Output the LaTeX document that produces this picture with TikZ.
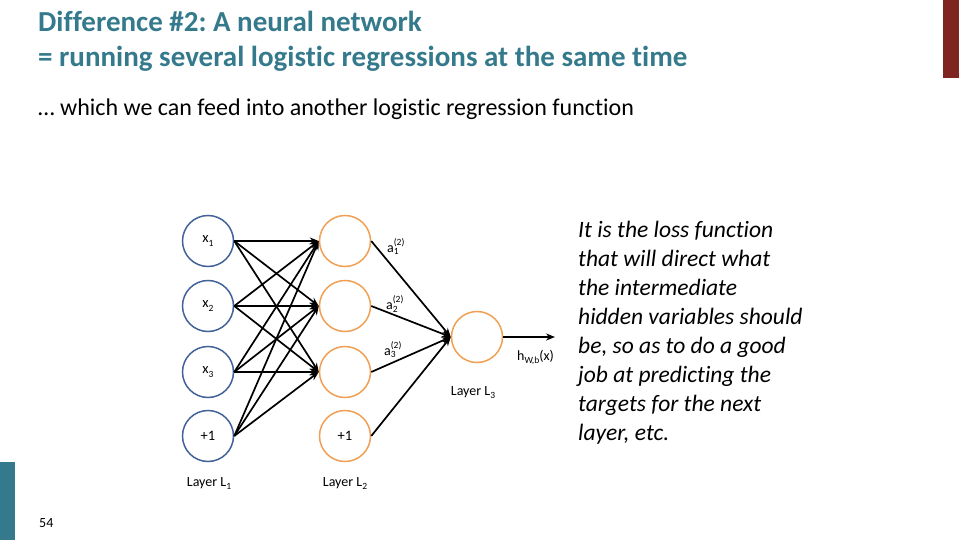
\documentclass[tikz,border=0pt]{standalone}
\usepackage{fontspec}
\setmainfont{Carlito}[Ligatures=NoCommon]
\usetikzlibrary{arrows.meta}
\definecolor{teal}{RGB}{52,122,140}
\definecolor{darkred}{RGB}{128,36,32}
\definecolor{nblue}{RGB}{68,98,154}
\definecolor{norange}{RGB}{240,160,85}
\newcommand{\smallfs}{\fontsize{9.5}{10}\selectfont}
\newcommand{\tsub}[1]{\raisebox{-0.28em}{\smallfs #1}}
\newcommand{\aact}[1]{a$^{\hbox{\smallfs (2)}}_{\hbox{\smallfs #1}}$}
\frenchspacing
\begin{document}
\begin{tikzpicture}[x=1pt,y=-1pt,
  inL/.style={circle,draw=nblue,line width=1.5pt,minimum size=51pt,inner sep=0pt,font=\fontsize{14.5}{16}\selectfont},
  hidL/.style={circle,draw=norange,line width=1.5pt,minimum size=51pt,inner sep=0pt,font=\fontsize{14.5}{16}\selectfont},
  conn/.style={line width=1.7pt,-{Stealth[length=9pt,width=7pt]}},
  lab/.style={font=\fontsize{14}{16}\selectfont,inner sep=0pt},
  title/.style={anchor=base west,inner sep=0pt,text=teal,font=\fontsize{29}{32}\selectfont\bfseries},
  body/.style={anchor=base west,inner sep=0pt,font=\fontsize{23.5}{27}\selectfont\itshape}]
\useasboundingbox (0,0) rectangle (960,540);
\fill[darkred] (943,0) rectangle (959,78);
\fill[teal] (0,462) rectangle (15,540);
\node[title] (t1) at (38,32) {Difference \#2: A neural network};
\node[title] (t2) at (38,67) {= running several logistic regressions at the same time};
\node[anchor=base west,inner sep=0pt,font=\fontsize{24}{28}\selectfont] (sub) at (38,116) {… which we can feed into another logistic regression function};
\node[anchor=base west,inner sep=0pt,font=\fontsize{14}{16}\selectfont] (pg) at (39,527) {54};
% layer 1
\node[inL] (x1) at (208,241) {x\tsub{1}};
\node[inL] (x2) at (208,306) {x\tsub{2}};
\node[inL] (x3) at (208,372) {x\tsub{3}};
\node[inL] (b1) at (208,436) {+1};
% layer 2
\node[hidL] (h1) at (345,241) {};
\node[hidL] (h2) at (345,306) {};
\node[hidL] (h3) at (345,372) {};
\node[hidL] (b2) at (345,436) {+1};
% layer 3
\node[hidL] (o) at (477,337) {};
\coordinate (out) at (555,337);
% connections
\foreach \s in {x1,x2,x3,b1}{
  \foreach \t in {h1,h2,h3}{
    \draw[conn] (\s.east) -- (\t.west);
  }
}
\foreach \s in {h1,h2,h3,b2}{
  \draw[conn] (\s.east) -- (o.west);
}
\draw[conn] (o.east) -- (out);
% labels
\node[lab] (a1) at (396,247) {\aact{1}};
\node[lab] (a2) at (395,304) {\aact{2}};
\node[lab] (a3) at (393,350) {\aact{3}};
\node[lab,anchor=base] (hx) at (535.5,360) {h\tsub{W,b}(x)};
\node[lab,anchor=base] (L1) at (209,486) {Layer L\tsub{1}};
\node[lab,anchor=base] (L2) at (345,486) {Layer L\tsub{2}};
\node[lab,anchor=base] (L3) at (473,395) {Layer L\tsub{3}};
% right text
\node[body] (r1) at (578,237) {It is the loss function};
\node[body] (r2) at (578,266) {that will direct what};
\node[body] (r3) at (578,295) {the intermediate};
\node[body] (r4) at (578,324) {hidden variables should};
\node[body] (r5) at (578,353) {be, so as to do a good};
\node[body] (r6) at (578,382) {job at predicting the};
\node[body] (r7) at (578,411) {targets for the next};
\node[body] (r8) at (578,440) {layer, etc.};
\end{tikzpicture}
\end{document}
